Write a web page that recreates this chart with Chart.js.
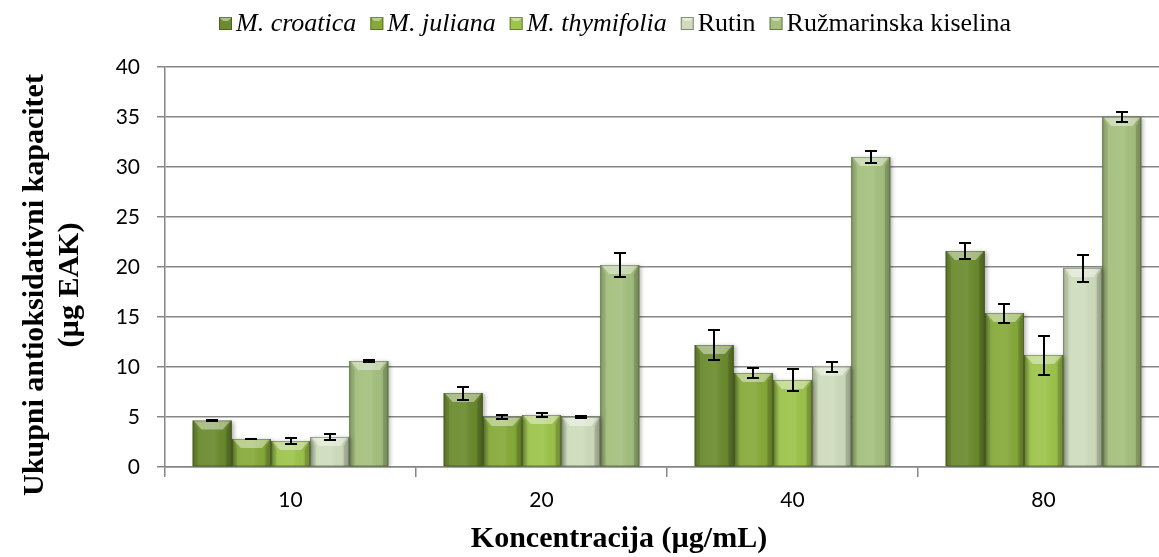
<!DOCTYPE html>
<html>
<head>
<meta charset="utf-8">
<script src="https://cdn.jsdelivr.net/npm/chart.js@4.4.1/dist/chart.umd.min.js"></script>
<style>
  html, body { margin: 0; padding: 0; background: #fff; overflow: hidden; }
  #wrap { position: relative; width: 1175px; height: 557px; }
</style>
</head>
<body>
<div id="wrap"><canvas id="chart" width="1175" height="557"></canvas></div>
<script>
const concentrations = ['10', '20', '40', '80'];
const seriesNames = ['M. croatica', 'M. juliana', 'M. thymifolia', 'Rutin', 'Ružmarinska kiselina'];
const italicNames = [true, true, true, false, false];

const croatica = [4.65, 7.4, 12.2, 21.6];
const juliana = [2.8, 5.0, 9.4, 15.4];
const thymifolia = [2.6, 5.2, 8.7, 11.2];
const rutin = [3.0, 5.0, 10.05, 19.9];
const rosmarinic = [10.6, 20.2, 31.0, 35.0];

const croaticaErr = [0.06, 0.65, 1.5, 0.77];
const julianaErr = [0.04, 0.22, 0.5, 0.95];
const thymifoliaErr = [0.3, 0.2, 1.1, 1.95];
const rutinErr = [0.3, 0.07, 0.5, 1.35];
const rosmarinicErr = [0.06, 1.2, 0.55, 0.55];

const yTicks = [0, 5, 10, 15, 20, 25, 30, 35, 40];

const barColors = ['#6b8b2e', '#86aa3a', '#9dc44b', '#cfdcbc', '#a4c07e'];
const allValues = [croatica, juliana, thymifolia, rutin, rosmarinic];
const allErrors = [croaticaErr, julianaErr, thymifoliaErr, rutinErr, rosmarinicErr];

const serif = "'Liberation Serif', 'Times New Roman', serif";
const sans = "Lato, 'Open Sans', sans-serif";

// soft shadow under every bar
const barShadow = {
  id: 'barShadow',
  beforeDatasetDraw(chart) {
    const ctx = chart.ctx;
    ctx.save();
    ctx.shadowColor = 'rgba(0,0,0,0.3)';
    ctx.shadowBlur = 4;
    ctx.shadowOffsetX = 2;
    ctx.shadowOffsetY = 1;
  },
  afterDatasetDraw(chart) {
    chart.ctx.restore();
  }
};

// bevel look + error bars, drawn on top of the bars chart.js placed
const barDecor = {
  id: 'barDecor',
  afterDatasetsDraw(chart) {
    const ctx = chart.ctx;
    ctx.save();
    chart.data.datasets.forEach((ds, di) => {
      const meta = chart.getDatasetMeta(di);
      meta.data.forEach((bar) => {
        const left = bar.x - bar.width / 2;
        const right = bar.x + bar.width / 2;
        const top = bar.y;
        const bottom = bar.base;
        const h = bottom - top;
        const b = Math.min(9, h / 2, bar.width / 3);

        const g = ctx.createLinearGradient(left, 0, right, 0);
        g.addColorStop(0, 'rgba(0,0,0,0.16)');
        g.addColorStop(0.22, 'rgba(255,255,255,0.05)');
        g.addColorStop(0.55, 'rgba(255,255,255,0.08)');
        g.addColorStop(0.8, 'rgba(0,0,0,0.02)');
        g.addColorStop(1, 'rgba(0,0,0,0.2)');
        ctx.fillStyle = g;
        ctx.fillRect(left, top, right - left, h);

        // top face
        ctx.fillStyle = 'rgba(255,255,255,0.42)';
        ctx.beginPath();
        ctx.moveTo(left + 1, top);
        ctx.lineTo(right - 1, top);
        ctx.lineTo(right - b, top + b);
        ctx.lineTo(left + b, top + b);
        ctx.closePath();
        ctx.fill();

        // side faces
        ctx.fillStyle = 'rgba(0,0,0,0.07)';
        ctx.beginPath();
        ctx.moveTo(left, top);
        ctx.lineTo(left + b * 0.6, top + b);
        ctx.lineTo(left + b * 0.6, bottom);
        ctx.lineTo(left, bottom);
        ctx.closePath();
        ctx.fill();
        ctx.fillStyle = 'rgba(0,0,0,0.12)';
        ctx.beginPath();
        ctx.moveTo(right, top);
        ctx.lineTo(right - b * 0.6, top + b);
        ctx.lineTo(right - b * 0.6, bottom);
        ctx.lineTo(right, bottom);
        ctx.closePath();
        ctx.fill();

        ctx.strokeStyle = 'rgba(40,55,20,0.35)';
        ctx.lineWidth = 1;
        ctx.strokeRect(left + 0.5, top + 0.5, right - left - 1, h - 1);
      });
    });

    // error bars
    const yScale = chart.scales.y;
    ctx.strokeStyle = '#000';
    ctx.lineWidth = 2;
    chart.data.datasets.forEach((ds, di) => {
      const meta = chart.getDatasetMeta(di);
      meta.data.forEach((bar, i) => {
        const v = ds.data[i];
        const e = allErrors[di][i];
        const yHi = Math.round(yScale.getPixelForValue(v + e));
        const yLo = Math.round(yScale.getPixelForValue(v - e));
        const x = Math.round(bar.x);
        ctx.beginPath();
        ctx.moveTo(x, yHi);
        ctx.lineTo(x, yLo);
        ctx.moveTo(x - 6, yHi);
        ctx.lineTo(x + 6, yHi);
        ctx.moveTo(x - 6, yLo);
        ctx.lineTo(x + 6, yLo);
        ctx.stroke();
      });
    });
    ctx.restore();
  }
};

// legend and axis titles (legend needs mixed italic / upright entries)
const textDecor = {
  id: 'textDecor',
  afterDraw(chart) {
    const ctx = chart.ctx;
    ctx.save();
    ctx.fillStyle = '#000';
    ctx.textBaseline = 'middle';

    let x = 219;
    const ly = 23;
    seriesNames.forEach((name, i) => {
      const c = barColors[i];
      ctx.fillStyle = c;
      ctx.fillRect(x, ly - 6, 13, 13);
      ctx.fillStyle = 'rgba(255,255,255,0.45)';
      ctx.beginPath();
      ctx.moveTo(x, ly - 6);
      ctx.lineTo(x + 13, ly - 6);
      ctx.lineTo(x + 9, ly - 2);
      ctx.lineTo(x + 4, ly - 2);
      ctx.closePath();
      ctx.fill();
      ctx.strokeStyle = 'rgba(40,55,20,0.5)';
      ctx.lineWidth = 1;
      ctx.strokeRect(x + 0.5, ly - 5.5, 12, 12);
      ctx.fillStyle = '#000';
      ctx.font = (italicNames[i] ? 'italic ' : '') + '26px ' + serif;
      ctx.textAlign = 'left';
      ctx.fillText(name, x + 17, ly + 1);
      x += 17 + ctx.measureText(name).width + 14;
    });

    ctx.font = 'bold 30px ' + serif;
    ctx.textAlign = 'center';
    ctx.textBaseline = 'alphabetic';
    ctx.fillText('Koncentracija (µg/mL)', 619, 547);

    ctx.textBaseline = 'middle';
    ctx.translate(0, 285);
    ctx.rotate(-Math.PI / 2);
    ctx.fillText('Ukupni antioksidativni kapacitet', 0, 35);
    ctx.fillText('(µg EAK)', 0, 70);
    ctx.restore();
  }
};

new Chart(document.getElementById('chart').getContext('2d'), {
  type: 'bar',
  data: {
    labels: concentrations,
    datasets: allValues.map((vals, i) => ({
      label: seriesNames[i],
      data: vals,
      backgroundColor: barColors[i],
      borderWidth: 0,
      categoryPercentage: 0.78,
      barPercentage: 1.0
    }))
  },
  options: {
    responsive: false,
    animation: false,
    devicePixelRatio: 1,
    layout: { padding: { top: 67, right: 6, left: 0, bottom: 0 } },
    plugins: {
      legend: { display: false },
      tooltip: { enabled: false }
    },
    scales: {
      x: {
        afterFit(scale) { scale.height = 90; },
        grid: { drawOnChartArea: false, drawTicks: true, tickLength: 10, color: '#868686', lineWidth: 1.5, offset: true },
        border: { color: '#868686', width: 1.5 },
        ticks: { color: '#000', font: { family: sans, size: 21 }, padding: 11 }
      },
      y: {
        min: 0,
        max: 40,
        afterFit(scale) { scale.width = 165; },
        afterBuildTicks(scale) { scale.ticks = yTicks.map((v) => ({ value: v })); },
        grid: { color: '#868686', lineWidth: 1.5, tickLength: 8 },
        border: { color: '#868686', width: 1.5 },
        ticks: { color: '#000', font: { family: sans, size: 21 }, padding: 17 }
      }
    }
  },
  plugins: [barShadow, barDecor, textDecor]
});
</script>
</body>
</html>
